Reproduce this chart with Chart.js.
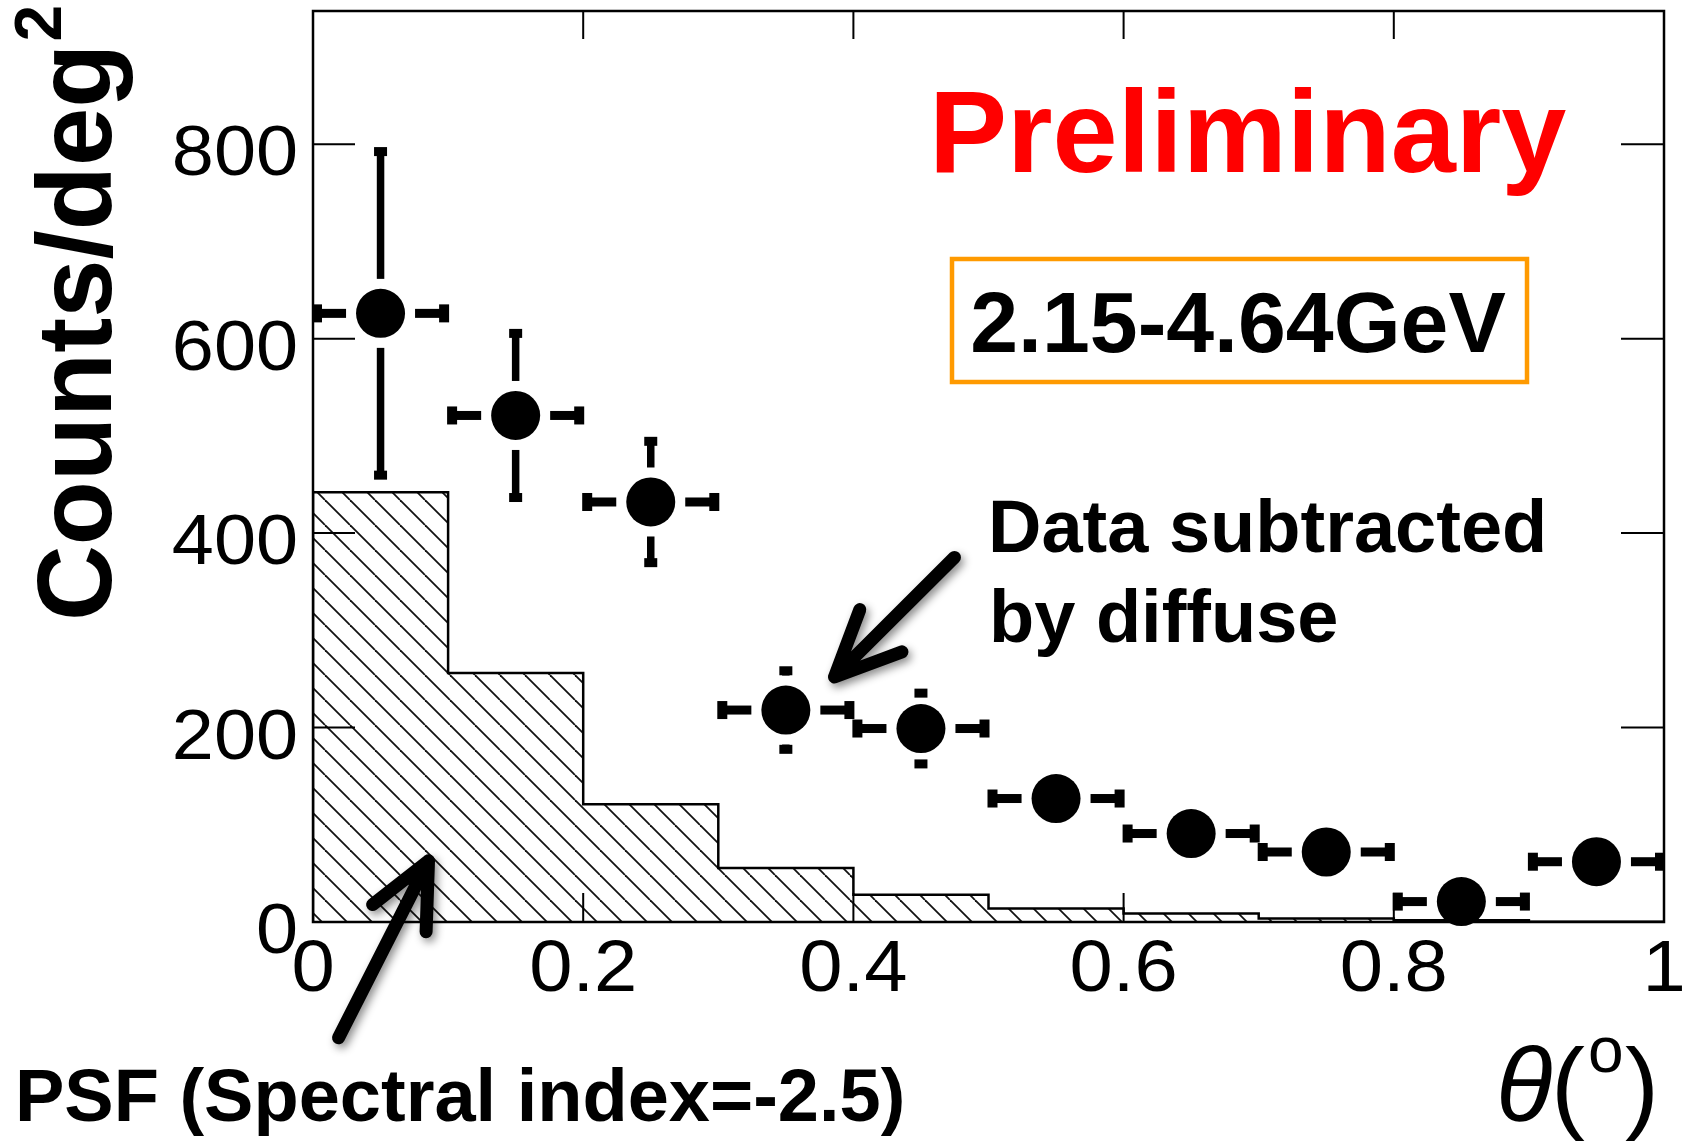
<!DOCTYPE html>
<html><head><meta charset="utf-8">
<script src="https://cdn.jsdelivr.net/npm/chart.js@4.4.1/dist/chart.umd.min.js"></script>
<style>html,body{margin:0;padding:0;background:#fff}canvas{display:block}</style>
</head><body>
<canvas id="c" width="1684" height="1144"></canvas>
<script>
// ---- data ----
const binCenters   = [0.05, 0.15, 0.25, 0.35, 0.45, 0.55, 0.65, 0.75, 0.85, 0.95];
const binHalfWidth = [0.05, 0.05, 0.05, 0.05, 0.05, 0.05, 0.05, 0.05, 0.05, 0.05];
const dataCounts   = [626, 521, 432, 218, 199, 127, 91, 72, 21, 62];
const dataErrors   = [170, 88, 66, 44, 40, 32, 28, 25, 22, 22];
const psfCounts    = [442, 256, 121, 55.5, 28, 14, 8.7, 3.7, 1.8, 0.3];
const xTickValues  = [0, 0.2, 0.4, 0.6, 0.8, 1];
const xTickLabels  = ['0', '0.2', '0.4', '0.6', '0.8', '1'];
const yTickValues  = [0, 200, 400, 600, 800];
const yTickLabels  = ['0', '200', '400', '600', '800'];
const xRange = [0, 1];
const yRange = [0, 937];

const FONT = "'Liberation Sans', Arial, Helvetica, sans-serif";
const canvas = document.getElementById('c');
const mainCtx = canvas.getContext('2d');

function makeHatch() {
  const s = 25;
  const t = document.createElement('canvas');
  t.width = s; t.height = s;
  const g = t.getContext('2d');
  g.fillStyle = '#fff'; g.fillRect(0, 0, s, s);
  g.strokeStyle = '#111'; g.lineWidth = 1.8;
  for (const k of [-s, 0, s]) { g.beginPath(); g.moveTo(k, 0); g.lineTo(k + s, s); g.stroke(); }
  return mainCtx.createPattern(t, 'repeat');
}

const psfBars = binCenters.map((x, i) => ({ x: x, y: psfCounts[i] }));
const psfOutline = [{ x: binCenters[0] - binHalfWidth[0], y: 0 }];
binCenters.forEach((x, i) => psfOutline.push({ x: x - binHalfWidth[i], y: psfCounts[i] }));
const lastI = binCenters.length - 1;
psfOutline.push({ x: binCenters[lastI] + binHalfWidth[lastI], y: psfCounts[lastI] });
psfOutline.push({ x: binCenters[lastI] + binHalfWidth[lastI], y: 0 });
const dataPoints = binCenters.map((x, i) => ({ x: x, y: dataCounts[i] }));

const MARKER_R = 24.5;

function txt(c, s, x, y, font, color, align, sx) {
  c.save();
  c.font = font; c.fillStyle = color || '#000';
  c.textAlign = align || 'left'; c.textBaseline = 'alphabetic';
  c.translate(x, y); c.scale(sx || 1, 1);
  c.fillText(s, 0, 0);
  c.restore();
}

function arrow(c, xs, ys, tail, tip, barbLen, barbDeg) {
  const tx = xs.getPixelForValue(tail[0]), ty = ys.getPixelForValue(tail[1]);
  const px = xs.getPixelForValue(tip[0]), py = ys.getPixelForValue(tip[1]);
  const ang = Math.atan2(ty - py, tx - px);
  const b = barbDeg * Math.PI / 180;
  c.save();
  c.shadowColor = 'rgba(0,0,0,0.45)'; c.shadowBlur = 8; c.shadowOffsetX = 3; c.shadowOffsetY = 4;
  c.strokeStyle = '#000'; c.lineWidth = 13; c.lineCap = 'round'; c.lineJoin = 'round';
  c.beginPath();
  c.moveTo(tx, ty); c.lineTo(px, py);
  c.moveTo(px + barbLen * Math.cos(ang + b), py + barbLen * Math.sin(ang + b));
  c.lineTo(px, py);
  c.lineTo(px + barbLen * Math.cos(ang - b), py + barbLen * Math.sin(ang - b));
  c.stroke();
  c.restore();
}

const plugin = {
  id: 'rootStyle',
  beforeDraw(chart) {
    const c = chart.ctx;
    c.save(); c.fillStyle = '#fff'; c.fillRect(0, 0, chart.width, chart.height); c.restore();
  },
  afterDatasetsDraw(chart) {
    const c = chart.ctx, a = chart.chartArea, xs = chart.scales.x, ys = chart.scales.y;
    // frame
    c.save();
    c.strokeStyle = '#000'; c.lineWidth = 2.5;
    c.strokeRect(a.left, a.top, a.right - a.left, a.bottom - a.top);
    c.lineWidth = 2;
    c.beginPath();
    yTickValues.forEach(v => {
      const y = ys.getPixelForValue(v);
      c.moveTo(a.left, y); c.lineTo(a.left + 42, y);
      c.moveTo(a.right, y); c.lineTo(a.right - 43, y);
    });
    xTickValues.forEach(v => {
      const x = xs.getPixelForValue(v);
      c.moveTo(x, a.bottom); c.lineTo(x, a.bottom - 29);
      c.moveTo(x, a.top); c.lineTo(x, a.top + 28);
    });
    c.stroke();
    c.restore();
    // tick labels
    yTickValues.forEach((v, i) => {
      txt(c, yTickLabels[i], a.left - 15, ys.getPixelForValue(v) + 31, '70px ' + FONT, '#000', 'right', 1.08);
    });
    xTickValues.forEach((v, i) => {
      txt(c, xTickLabels[i], xs.getPixelForValue(v), a.bottom + 69, '72px ' + FONT, '#000', 'center', 1.08);
    });
    // error bars
    c.save();
    c.fillStyle = '#000';
    const gap = MARKER_R + 10;
    binCenters.forEach((xv, i) => {
      const cx = xs.getPixelForValue(xv), cy = ys.getPixelForValue(dataCounts[i]);
      const xl = xs.getPixelForValue(xv - binHalfWidth[i]);
      const xr = xs.getPixelForValue(xv + binHalfWidth[i]);
      const yt = ys.getPixelForValue(dataCounts[i] + dataErrors[i]);
      const yb = ys.getPixelForValue(dataCounts[i] - dataErrors[i]);
      const hT = 9, vT = 7.5;
      if (cx - xl > gap) {
        c.fillRect(xl, cy - hT / 2, cx - gap - xl, hT);
        c.fillRect(xl - 1, cy - 9, 10, 18);
      }
      if (xr - cx > gap) {
        c.fillRect(cx + gap, cy - hT / 2, xr - cx - gap, hT);
        c.fillRect(xr - 9, cy - 9, 10, 18);
      }
      if (cy - yt > gap) {
        c.fillRect(cx - vT / 2, yt, vT, cy - gap - yt);
        c.fillRect(cx - 6.5, yt - 1, 13, 9);
      }
      if (yb - cy > gap) {
        c.fillRect(cx - vT / 2, cy + gap, vT, yb - cy - gap);
        c.fillRect(cx - 6.5, yb - 8, 13, 9);
      }
    });
    c.restore();
    // arrows (positions in data coordinates)
    arrow(c, xs, ys, [0.4748, 375], [0.386, 252], 72, 24.5);
    arrow(c, xs, ys, [0.0189, -119], [0.0855, 63], 71, 25);
    // texts
    txt(c, 'Preliminary', 929, 172, 'bold 117px ' + FONT, '#ff0000', 'left');
    c.save(); c.strokeStyle = '#ff9a00'; c.lineWidth = 4.5; c.strokeRect(952, 259, 575, 123); c.restore();
    txt(c, '2.15-4.64GeV', 1238, 352, 'bold 86px ' + FONT, '#000', 'center');
    txt(c, 'Data subtracted', 988, 552, 'bold 74px ' + FONT, '#000', 'left');
    txt(c, 'by diffuse', 989, 642, 'bold 74px ' + FONT, '#000', 'left');
    txt(c, 'PSF (Spectral index=-2.5)', 15, 1121, 'bold 74px ' + FONT, '#000', 'left');
    // x title
    txt(c, '\u03B8', 1496, 1120, 'italic 104px ' + FONT, '#000', 'left');
    txt(c, '(', 1551, 1120, '102px ' + FONT, '#000', 'left');
    txt(c, 'o', 1588, 1072, '64px ' + FONT, '#000', 'left');
    txt(c, ')', 1625, 1120, '102px ' + FONT, '#000', 'left');
    // y title
    c.save();
    c.translate(111, 621); c.rotate(-Math.PI / 2);
    c.fillStyle = '#000'; c.textAlign = 'left'; c.textBaseline = 'alphabetic';
    c.font = 'bold 105px ' + FONT;
    c.fillText('Counts/deg', 0, 0);
    const w = c.measureText('Counts/deg').width;
    c.font = 'bold 66px ' + FONT;
    c.fillText('2', w + 2, -50);
    c.restore();
  }
};

new Chart(canvas, {
  type: 'scatter',
  data: {
    datasets: [
      {
        type: 'scatter', label: 'Data subtracted by diffuse', data: dataPoints, order: 0,
        pointRadius: MARKER_R, pointHoverRadius: MARKER_R, pointStyle: 'circle',
        backgroundColor: '#000', borderColor: '#000', borderWidth: 0, clip: false
      },
      {
        type: 'line', label: 'PSF outline', data: psfOutline, order: 1, showLine: true,
        stepped: true, borderColor: '#000', borderWidth: 2.5, pointRadius: 0, fill: false
      },
      {
        type: 'bar', label: 'PSF', data: psfBars, order: 2,
        backgroundColor: makeHatch(), borderWidth: 0,
        barPercentage: 1.0, categoryPercentage: 1.0
      }
    ]
  },
  options: {
    responsive: false, animation: false, devicePixelRatio: 1, events: [],
    layout: { autoPadding: false, padding: { left: 313, right: 20, top: 11, bottom: 222 } },
    plugins: { legend: { display: false }, tooltip: { enabled: false }, title: { display: false } },
    scales: {
      x: { type: 'linear', min: xRange[0], max: xRange[1], offset: false, display: false },
      y: { type: 'linear', min: yRange[0], max: yRange[1], display: false }
    }
  },
  plugins: [plugin]
});
</script>
</body></html>
